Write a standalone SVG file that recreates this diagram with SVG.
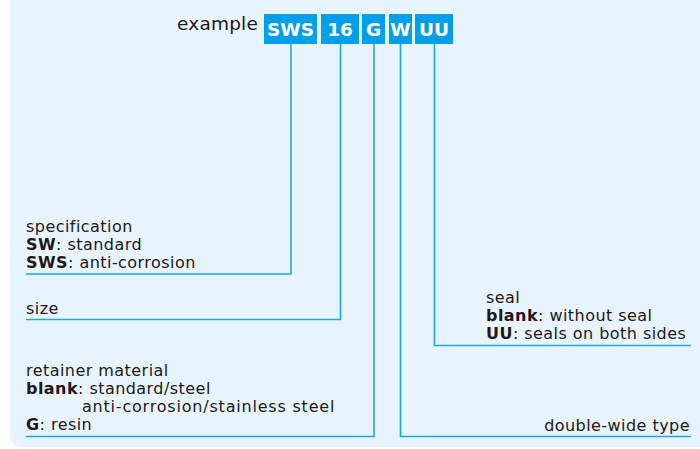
<svg xmlns="http://www.w3.org/2000/svg" width="700" height="449" viewBox="0 0 700 449">
<style>
.bg{fill:#e7f4fd}
.box{fill:#00a0e9}
.bl{fill:#fff;font-family:"DejaVu Sans",sans-serif;font-weight:bold;font-size:18.5px;text-anchor:middle}
.t{fill:#231815;font-family:"DejaVu Sans",sans-serif;font-size:16px;letter-spacing:0.45px}
.b{font-weight:bold}
.ln{fill:none;stroke:#1ea6e3;stroke-width:1.6}
</style>
<rect class="bg" x="10" y="-12" width="702" height="459" rx="12"/>
<g id="example">
<text class="t" x="177" y="30" style="font-size:18.5px;letter-spacing:0.2px">example</text>
</g>
<g id="box-SWS"><rect class="box" x="264" y="14" width="53" height="30"/><text class="bl" x="290.5" y="36">SWS</text></g>
<g id="box-16"><rect class="box" x="321" y="14" width="38" height="30"/><text class="bl" x="340" y="36">16</text></g>
<g id="box-G"><rect class="box" x="362" y="14" width="23" height="30"/><text class="bl" x="373.5" y="36">G</text></g>
<g id="box-W"><rect class="box" x="389" y="14" width="23" height="30"/><text class="bl" x="400.5" y="36">W</text></g>
<g id="box-UU"><rect class="box" x="415" y="14" width="38" height="30"/><text class="bl" x="434" y="36">UU</text></g>
<g id="connectors">
<polyline class="ln" points="291,44 291,274 26,274"/>
<polyline class="ln" points="340.5,44 340.5,319.5 26,319.5"/>
<polyline class="ln" points="374,44 374,436.5 26,436.5"/>
<polyline class="ln" points="400.5,44 400.5,436.5 691,436.5"/>
<polyline class="ln" points="434.5,44 434.5,345.5 691,345.5"/>
</g>
<g id="spec">
<text class="t" x="26" y="232">specification</text>
<text class="t" x="26" y="249.5"><tspan class="b">SW</tspan>: standard</text>
<text class="t" x="26" y="267.5"><tspan class="b">SWS</tspan>: anti-corrosion</text>
</g>
<g id="size"><text class="t" x="26" y="313.5">size</text></g>
<g id="retainer">
<text class="t" x="26" y="376">retainer material</text>
<text class="t" x="26" y="394"><tspan class="b">blank</tspan>: standard/steel</text>
<text class="t" x="82" y="412" style="letter-spacing:0.8px">anti-corrosion/stainless steel</text>
<text class="t" x="26" y="430"><tspan class="b">G</tspan>: resin</text>
</g>
<g id="doublewide"><text class="t" x="690" y="431" text-anchor="end">double-wide type</text></g>
<g id="seal">
<text class="t" x="486" y="302.5">seal</text>
<text class="t" x="486" y="320.5"><tspan class="b">blank</tspan>: without seal</text>
<text class="t" x="486" y="338.5"><tspan class="b">UU</tspan>: seals on both sides</text>
</g>
</svg>
